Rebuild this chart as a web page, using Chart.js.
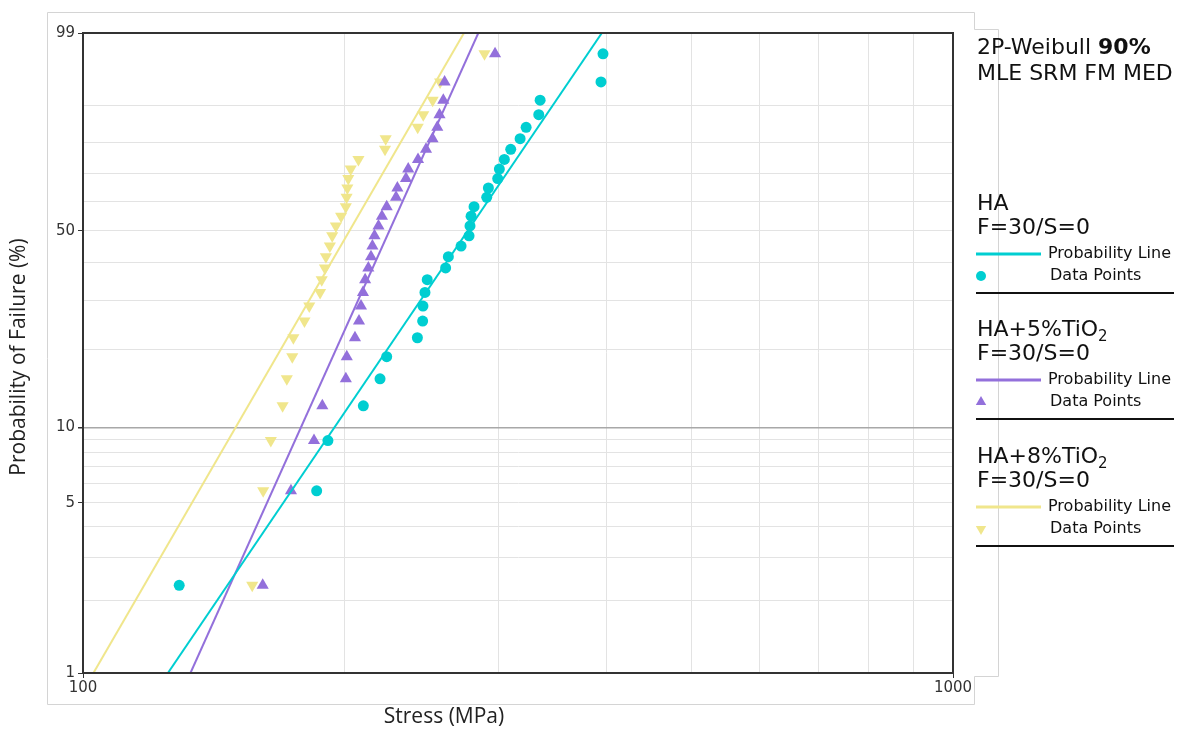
<!DOCTYPE html>
<html>
<head>
<meta charset="utf-8">
<script src="https://cdn.jsdelivr.net/npm/chart.js@4.4.1/dist/chart.umd.min.js"></script>
<style>
  body { margin: 0; background: #fff; }
  canvas { display: block; }
</style>
</head>
<body>
<canvas id="weibull" width="1184" height="729"></canvas>
<script>
// Weibull probability plot, 30 specimens per group (median ranks)

const rankPct = [2.30, 5.59, 8.88, 12.17, 15.46, 18.75, 22.04, 25.33, 28.62, 31.91,
  35.20, 38.49, 41.78, 45.07, 48.36, 51.64, 54.93, 58.22, 61.51, 64.80,
  68.09, 71.38, 74.67, 77.96, 81.25, 84.54, 87.83, 91.12, 94.41, 97.70];

// stress at failure (MPa), sorted
const haStress = [129.0, 185.6, 191.2, 210.0, 219.5, 223.4, 242.3, 245.7, 245.9, 247.2,
  248.7, 261.1, 263.0, 272.0, 277.8, 278.5, 279.3, 281.5, 291.1, 292.4,
  299.7, 301.0, 305.0, 310.2, 318.0, 323.1, 334.1, 335.3, 393.9, 396.0];
const ha5Stress = [160.9, 173.4, 184.3, 188.4, 200.5, 201.0, 205.4, 207.6, 208.7, 209.8,
  211.0, 212.8, 214.3, 215.1, 216.3, 218.6, 220.6, 223.4, 229.0, 229.8,
  235.1, 236.5, 242.7, 247.9, 252.2, 255.4, 256.9, 259.5, 260.4, 297.6];
const ha8Stress = [156.5, 161.1, 164.4, 169.6, 171.5, 174.0, 174.5, 179.7, 182.0, 187.3,
  188.1, 189.7, 190.2, 192.2, 193.4, 195.3, 198.0, 200.5, 200.9, 201.3,
  201.8, 203.1, 207.3, 222.4, 222.8, 242.5, 246.1, 252.3, 257.3, 289.4];

// probability lines: stress where the fitted line hits 1% and 99%
const lineProb = [1, 99];
const haLine = [125.2, 394.8];
const ha5Line = [132.9, 284.7];
const ha8Line = [102.8, 274.1];

const xTicks = [100, 200, 300, 400, 500, 600, 700, 800, 900, 1000];
const xLabels = [100, 1000];
const yGrid = [1, 2, 3, 4, 5, 6, 7, 8, 9, 10, 20, 30, 40, 50, 60, 70, 80, 90, 99];
const yLabels = [1, 5, 10, 50, 99];

const CYAN = '#00CED1', PURPLE = '#9370DB', KHAKI = '#F0E68C';

// y = ln(-ln(1 - F))
const weib = (p) => Math.log(-Math.log(1 - p / 100));

class WeibullScale extends Chart.LinearScale {
  buildTicks() {
    this.start = this.min;
    this.end = this.max;
    return yGrid.map(v => ({ value: v }));
  }
  configure() {
    super.configure();
    this._startValue = weib(this.min);
    this._valueRange = weib(this.max) - weib(this.min);
  }
  getPixelForValue(value) {
    return this.getPixelForDecimal((weib(value) - this._startValue) / this._valueRange);
  }
  getValueForPixel(pixel) {
    const t = this.getDecimalForPixel(pixel) * this._valueRange + this._startValue;
    return 100 * (1 - Math.exp(-Math.exp(t)));
  }
}
WeibullScale.id = 'weibull';
WeibullScale.defaults = Chart.LinearScale.defaults;
Chart.register(WeibullScale);

const pts = (xs) => xs.map((x, i) => ({ x: x, y: rankPct[i] }));
const line = (xs) => xs.map((x, i) => ({ x: x, y: lineProb[i] }));

// outer panel, frame, axis titles and side legend
const decor = {
  id: 'decor',
  beforeDraw(chart) {
    const ctx = chart.ctx;
    ctx.save();
    ctx.fillStyle = '#fff';
    ctx.fillRect(0, 0, chart.width, chart.height);
    ctx.strokeStyle = '#d4d4d4';
    ctx.lineWidth = 1;
    ctx.beginPath();
    ctx.moveTo(47.5, 12.5);
    ctx.lineTo(974.5, 12.5);
    ctx.lineTo(974.5, 29.5);
    ctx.lineTo(998.5, 29.5);
    ctx.lineTo(998.5, 676.5);
    ctx.lineTo(974.5, 676.5);
    ctx.lineTo(974.5, 704.5);
    ctx.lineTo(47.5, 704.5);
    ctx.closePath();
    ctx.stroke();
    ctx.restore();
  },
  afterDraw(chart) {
    const ctx = chart.ctx;
    const a = chart.chartArea;
    ctx.save();
    ctx.strokeStyle = '#333';
    ctx.lineWidth = 2;
    ctx.strokeRect(a.left, a.top, a.right - a.left, a.bottom - a.top);

    ctx.fillStyle = '#222';
    ctx.font = '21px "Open Sans"';
    ctx.textAlign = 'center';
    ctx.textBaseline = 'middle';
    ctx.fillText('Stress (MPa)', 444, 717);
    ctx.save();
    ctx.translate(19, 357);
    ctx.rotate(-Math.PI / 2);
    ctx.fillText('Probability of Failure (%)', 0, 0);
    ctx.restore();

    // legend block
    const lx = 977;
    ctx.textAlign = 'left';
    ctx.fillStyle = '#111';
    ctx.font = '22px "DejaVu Sans"';
    ctx.fillText('2P-Weibull ', lx, 48);
    const w = ctx.measureText('2P-Weibull ').width;
    ctx.font = 'bold 22px "DejaVu Sans"';
    ctx.fillText('90%', lx + w, 48);
    ctx.font = '22px "DejaVu Sans"';
    ctx.fillText('MLE SRM FM MED', lx, 74);

    const groups = [
      { name: 'HA', sub: '', y: 204, color: CYAN, style: 'circle', rot: 0, r: 5, lw: 3 },
      { name: 'HA+5%TiO', sub: '2', y: 330, color: PURPLE, style: 'triangle', rot: 0, r: 6, lw: 3 },
      { name: 'HA+8%TiO', sub: '2', y: 457, color: KHAKI, style: 'triangle', rot: 180, r: 6, lw: 3 }
    ];
    groups.forEach(g => {
      ctx.fillStyle = '#111';
      ctx.font = '22px "DejaVu Sans"';
      ctx.fillText(g.name, lx, g.y);
      if (g.sub) {
        const nw = ctx.measureText(g.name).width;
        ctx.font = '15px "DejaVu Sans"';
        ctx.fillText(g.sub, lx + nw, g.y + 7);
        ctx.font = '22px "DejaVu Sans"';
      }
      ctx.fillText('F=30/S=0', lx, g.y + 24);

      ctx.strokeStyle = g.color;
      ctx.lineWidth = g.lw;
      ctx.beginPath();
      ctx.moveTo(976, g.y + 50);
      ctx.lineTo(1041, g.y + 50);
      ctx.stroke();

      ctx.fillStyle = g.color;
      Chart.helpers.drawPoint(ctx, { pointStyle: g.style, radius: g.r, rotation: g.rot, borderWidth: 0 }, 981, g.y + 72);

      ctx.fillStyle = '#111';
      ctx.font = '16px "DejaVu Sans"';
      ctx.fillText('Probability Line', 1048, g.y + 50);
      ctx.fillText('Data Points', 1050, g.y + 72);

      ctx.strokeStyle = '#111';
      ctx.lineWidth = 2;
      ctx.beginPath();
      ctx.moveTo(976, g.y + 89);
      ctx.lineTo(1174, g.y + 89);
      ctx.stroke();
    });
    ctx.restore();
  }
};

new Chart(document.getElementById('weibull'), {
  type: 'scatter',
  data: {
    datasets: [
      { label: 'HA line', type: 'line', data: line(haLine), borderColor: CYAN, borderWidth: 2, pointRadius: 0, fill: false },
      { label: 'HA+5%TiO2 line', type: 'line', data: line(ha5Line), borderColor: PURPLE, borderWidth: 2, pointRadius: 0, fill: false },
      { label: 'HA+8%TiO2 line', type: 'line', data: line(ha8Line), borderColor: KHAKI, borderWidth: 2, pointRadius: 0, fill: false },
      { label: 'HA', data: pts(haStress), backgroundColor: CYAN, borderWidth: 0, pointStyle: 'circle', pointRadius: 5.5 },
      { label: 'HA+5%TiO2', data: pts(ha5Stress), backgroundColor: PURPLE, borderWidth: 0, pointStyle: 'triangle', pointRadius: 7 },
      { label: 'HA+8%TiO2', data: pts(ha8Stress), backgroundColor: KHAKI, borderWidth: 0, pointStyle: 'triangle', rotation: 180, pointRadius: 7 }
    ]
  },
  options: {
    responsive: false,
    animation: false,
    events: [],
    layout: { padding: { left: 0, right: 231, top: 33, bottom: 0 } },
    plugins: { legend: { display: false }, tooltip: { enabled: false } },
    scales: {
      x: {
        type: 'logarithmic',
        min: 100,
        max: 1000,
        afterBuildTicks: (s) => { s.ticks = xTicks.map(v => ({ value: v })); },
        afterFit: (s) => { s.height = 56; },
        border: { color: '#333', width: 2 },
        grid: {
          color: '#e3e3e3',
          tickLength: 5,
          tickColor: (c) => (c.tick && xLabels.includes(c.tick.value)) ? '#333' : 'rgba(0,0,0,0)'
        },
        ticks: {
          autoSkip: false,
          maxRotation: 0,
          padding: 1,
          color: '#333',
          font: { family: 'DejaVu Sans', size: 15 },
          callback: (v) => xLabels.includes(v) ? String(v) : ''
        }
      },
      y: {
        type: 'weibull',
        min: 1,
        max: 99,
        afterFit: (s) => { s.width = 83; },
        border: { color: '#333', width: 2 },
        grid: {
          color: (c) => (c.tick && c.tick.value === 10) ? '#a8a8a8' : '#e3e3e3',
          lineWidth: (c) => (c.tick && c.tick.value === 10) ? 1.5 : 1,
          tickLength: 5,
          tickColor: (c) => (c.tick && yLabels.includes(c.tick.value)) ? '#333' : 'rgba(0,0,0,0)'
        },
        ticks: {
          autoSkip: false,
          padding: 3,
          color: '#333',
          font: { family: 'DejaVu Sans', size: 15 },
          callback: (v) => yLabels.includes(v) ? String(v) : ''
        }
      }
    }
  },
  plugins: [decor]
});
</script>
</body>
</html>
